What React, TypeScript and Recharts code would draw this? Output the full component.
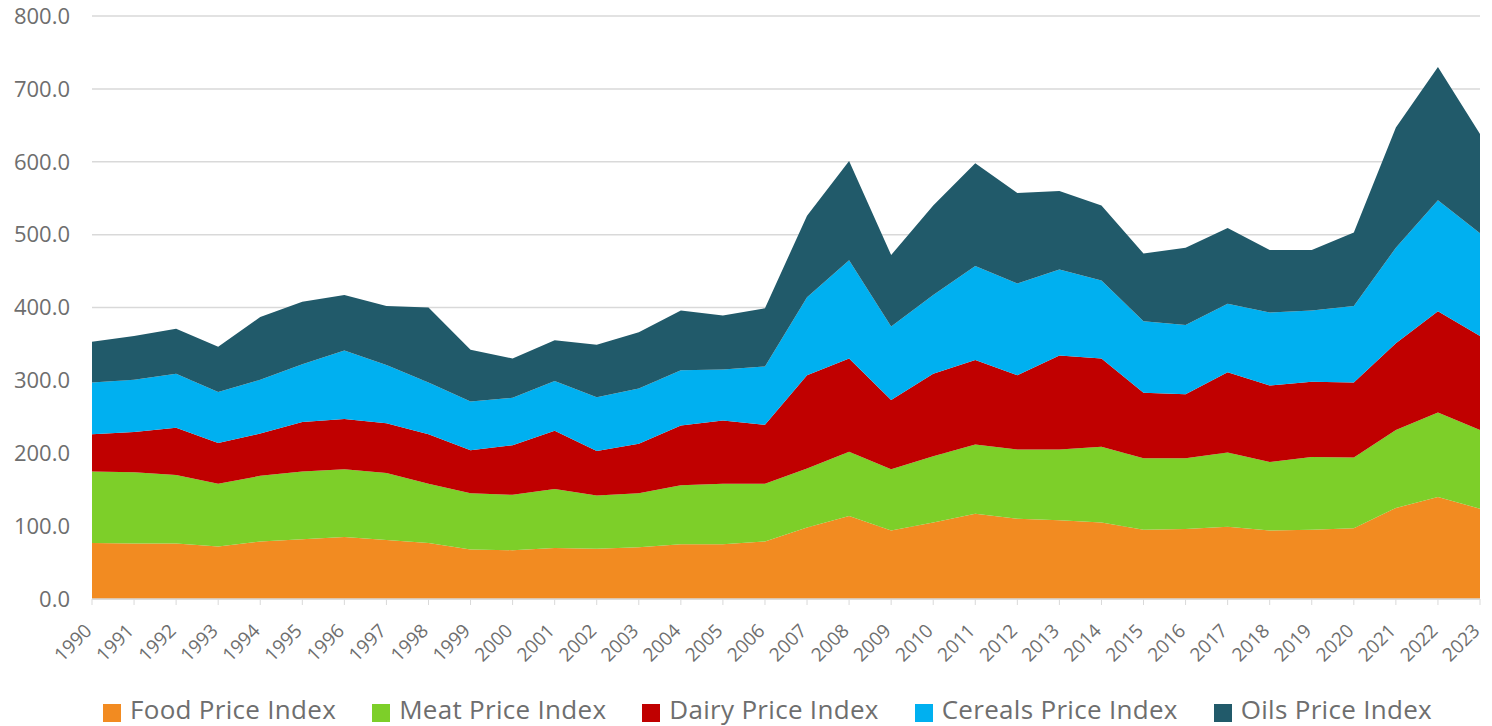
import React from "react";
import { AreaChart, Area, XAxis, YAxis, CartesianGrid, Legend } from "recharts";

const years = ["1990","1991","1992","1993","1994","1995","1996","1997","1998","1999","2000","2001","2002","2003","2004","2005","2006","2007","2008","2009","2010","2011","2012","2013","2014","2015","2016","2017","2018","2019","2020","2021","2022","2023"];
const food = [77, 76, 76, 72, 79, 82, 85, 81, 77, 68, 67, 70, 69, 71, 75, 75, 79, 98, 114, 94, 105, 117, 110, 108, 105, 95, 96, 99, 94, 95, 97, 125, 140, 124];
const meat = [98, 98, 94, 86, 90, 93, 93, 92, 81, 77, 76, 81, 73, 74, 81, 83, 79, 81, 88, 84, 91, 95, 95, 97, 104, 98, 97, 102, 94, 100, 97, 107, 116, 108];
const dairy = [51, 55, 65, 56, 58, 68, 69, 68, 68, 59, 68, 80, 61, 68, 82, 87, 81, 128, 128, 95, 113, 116, 102, 129, 121, 90, 88, 110, 105, 103, 103, 119, 139, 129];
const cereals = [71, 72, 74, 70, 74, 79, 94, 80, 71, 67, 65, 68, 74, 76, 76, 70, 80, 107, 135, 101, 108, 129, 126, 118, 107, 98, 95, 94, 100, 98, 105, 131, 152, 141];
const oils = [56, 60, 62, 62, 86, 86, 76, 81, 103, 71, 54, 56, 72, 77, 82, 74, 80, 112, 136, 98, 123, 141, 124, 108, 103, 93, 106, 104, 86, 83, 101, 165, 183, 136];
const yTicks = [0, 100, 200, 300, 400, 500, 600, 700, 800];

const seriesNames = ["Food Price Index", "Meat Price Index", "Dairy Price Index", "Cereals Price Index", "Oils Price Index"];
const seriesKeys = ["food", "meat", "dairy", "cereals", "oils"];
const seriesColors = ["#F28B21", "#7DCF29", "#C00000", "#00B0F0", "#215A6A"];
const seriesValues = [food, meat, dairy, cereals, oils];

const data = years.map((y, i) => {
  const row: any = { year: y };
  seriesKeys.forEach((k, j) => { row[k] = seriesValues[j][i]; });
  return row;
});

const FONT = "'Open Sans', sans-serif";
const TEXT = "#6E6E6E";

const XTick = (props: any) => {
  const { x, y, payload } = props;
  return (
    <g transform={`translate(${x},${y})`}>
      <text x={0} y={0} transform="translate(1,25) rotate(-45)" textAnchor="end" fontFamily={FONT} fontSize={19} fill={TEXT}>
        {payload.value}
      </text>
    </g>
  );
};

const LegendContent = () => (
  <div style={{ display: "flex", alignItems: "flex-start", paddingLeft: 103, height: 30, fontFamily: FONT }}>
    {seriesNames.map((n, i) => (
      <div key={n} style={{ display: "flex", alignItems: "flex-start", marginRight: 36 }}>
        <div style={{ width: 18, height: 18, background: seriesColors[i], marginRight: 9, marginTop: 8 }} />
        <span style={{ fontSize: 26, color: TEXT, lineHeight: "26px", letterSpacing: 0.3, whiteSpace: "nowrap" }}>{n}</span>
      </div>
    ))}
  </div>
);

export default function App() {
  return (
    <div style={{ position: "absolute", left: 0, top: 0 }}>
      <AreaChart width={1492} height={726} data={data} margin={{ top: 16, right: 12, left: 0, bottom: 0 }}>
        <CartesianGrid vertical={false} stroke="#D9D9D9" strokeWidth={1.5} />
        <XAxis
          dataKey="year"
          tick={<XTick />}
          interval={0}
          height={97}
          stroke="#D9D9D9"
          tickSize={6}
          tickLine={{ stroke: "#D9D9D9" }}
          axisLine={{ stroke: "#D9D9D9", strokeWidth: 1.5 }}
        />
        <YAxis
          domain={[0, 800]}
          ticks={yTicks}
          width={92}
          axisLine={false}
          tickLine={false}
          tickMargin={16}
          tickFormatter={(v: number) => v.toFixed(1)}
          tick={{ fontFamily: FONT, fontSize: 22, fill: TEXT }}
        />
        <Legend verticalAlign="bottom" content={<LegendContent />} wrapperStyle={{ left: 0, width: 1492, height: 30 }} />
        {seriesKeys.map((k, i) => (
          <Area
            key={k}
            type="linear"
            dataKey={k}
            name={seriesNames[i]}
            stackId="1"
            stroke="none"
            fill={seriesColors[i]}
            fillOpacity={1}
            isAnimationActive={false}
          />
        ))}
      </AreaChart>
    </div>
  );
}
